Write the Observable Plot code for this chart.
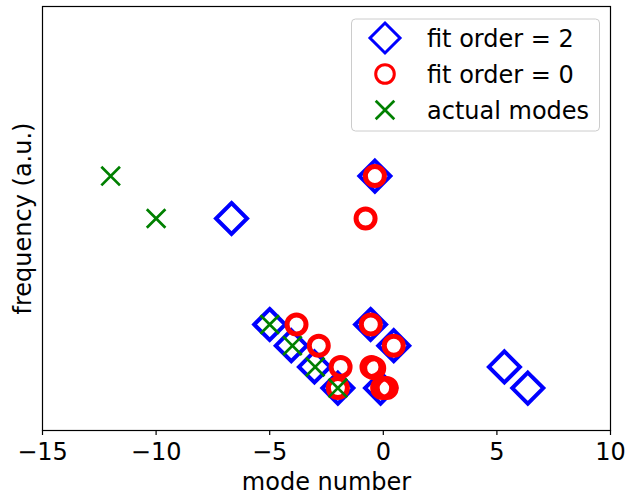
<!DOCTYPE html>
<html>
<head>
<meta charset="utf-8">
<script src="https://cdn.jsdelivr.net/npm/d3@7"></script>
<script src="https://cdn.jsdelivr.net/npm/@observablehq/plot@0.6"></script>
<style>
  body { margin: 0; background: #fff; }
</style>
</head>
<body>
<div id="chart"></div>
<script>
// Fitted mode positions, fit order = 2
const fit2Mode = [-6.68, -0.37, -5.0, -4.05, -3.03, -2.0, -0.56, 0.46, -0.12, 5.33, 6.36];
const fit2Freq = [0.5, 0.6, 0.25, 0.2, 0.15, 0.1, 0.25, 0.2, 0.1, 0.15, 0.1];
// Fitted mode positions, fit order = 0
const fit0Mode = [-0.37, -0.78, -3.82, -2.84, -1.88, -2.0, -0.55, 0.46, -0.52, -0.40, -0.05, 0.15];
const fit0Freq = [0.6, 0.5, 0.25, 0.2, 0.15, 0.1, 0.25, 0.2, 0.15, 0.147, 0.1, 0.1];
// True modes
const actualMode = [-12, -10, -5, -4, -3, -2];
const actualFreq = [0.6, 0.5, 0.25, 0.2, 0.15, 0.1];

const xTicks = [-15, -10, -5, 0, 5, 10];
const legendLabels = ["fit order = 2", "fit order = 0", "actual modes"];

const BLUE = "#0000ff", RED = "#ff0000", GREEN = "#008000";
const FONT = "DejaVu Sans";

// Square rotated 45°, r = half-diagonal
const diamondSym = {
  draw(ctx, size) {
    const r = Math.sqrt(size / Math.PI);
    ctx.moveTo(0, -r); ctx.lineTo(r, 0); ctx.lineTo(0, r); ctx.lineTo(-r, 0); ctx.closePath();
  }
};
// Diagonal cross, r = half-width
const crossSym = {
  draw(ctx, size) {
    const r = Math.sqrt(size / Math.PI);
    ctx.moveTo(-r, -r); ctx.lineTo(r, r);
    ctx.moveTo(-r, r); ctx.lineTo(r, -r);
  }
};

const pts = (xs, ys) => xs.map((x, i) => ({mode: x, freq: ys[i]}));
const fit2 = pts(fit2Mode, fit2Freq);
const fit0 = pts(fit0Mode, fit0Freq);
const actual = pts(actualMode, actualFreq);

const chart = Plot.plot({
  width: 625,
  height: 495,
  marginLeft: 42,
  marginRight: 15,
  marginTop: 6,
  marginBottom: 65,
  style: {fontFamily: FONT, fontSize: "24px", color: "#000", background: "#fff"},
  x: {domain: [-15, 10]},
  y: {domain: [0, 1], axis: null},
  marks: [
    Plot.dot(fit2, {x: "mode", y: "freq", symbol: diamondSym, r: 15.5, stroke: BLUE, strokeWidth: 4, fill: "none", strokeLinejoin: "miter"}),
    Plot.dot(fit0, {x: "mode", y: "freq", r: 9.5, stroke: RED, strokeWidth: 5, fill: "none"}),
    Plot.dot(actual, {x: "mode", y: "freq", symbol: crossSym, r: 9.3, stroke: GREEN, strokeWidth: 2.7, strokeLinecap: "butt"}),
    Plot.frame({stroke: "#000", strokeWidth: 1.2}),
    Plot.axisX({ticks: xTicks, tickSize: 5, tickPadding: 7, tickFormat: d3.format("d"), fontSize: 24, label: null, stroke: "#000", strokeWidth: 1.2}),
    Plot.text(["mode number"], {frameAnchor: "bottom", lineAnchor: "top", dy: 42, fontSize: 24, fill: "#000"}),
    Plot.text(["frequency (a.u.)"], {frameAnchor: "left", textAnchor: "middle", rotate: -90, lineAnchor: "top", dx: -29, fontSize: 24, fill: "#000"})
  ]
});

// Legend box in the upper right of the plot area
const svg = d3.select(chart);
const lg = svg.append("g").attr("font-family", FONT).attr("font-size", 24).attr("text-anchor", "start");
lg.append("rect")
  .attr("x", 351.5).attr("y", 19).attr("width", 248).attr("height", 112).attr("rx", 4)
  .attr("fill", "#fff").attr("fill-opacity", 0.8).attr("stroke", "#cccccc").attr("stroke-width", 1);
const legendSymbols = [
  {path: d3.symbol(diamondSym, Math.PI * 15 * 15)(), stroke: BLUE, width: 3},
  {path: d3.symbol(d3.symbolCircle, Math.PI * 9.3 * 9.3)(), stroke: RED, width: 3},
  {path: d3.symbol(crossSym, Math.PI * 9.3 * 9.3)(), stroke: GREEN, width: 2.7}
];
legendLabels.forEach((label, i) => {
  const cy = 38 + i * 36;
  lg.append("path").attr("d", legendSymbols[i].path)
    .attr("transform", `translate(385,${cy})`)
    .attr("fill", "none").attr("stroke", legendSymbols[i].stroke)
    .attr("stroke-width", legendSymbols[i].width);
  lg.append("text").attr("x", 427).attr("y", cy + 8.7).attr("fill", "#000")
    .attr("text-anchor", "start").text(label);
});

document.getElementById("chart").append(chart);
</script>
</body>
</html>
